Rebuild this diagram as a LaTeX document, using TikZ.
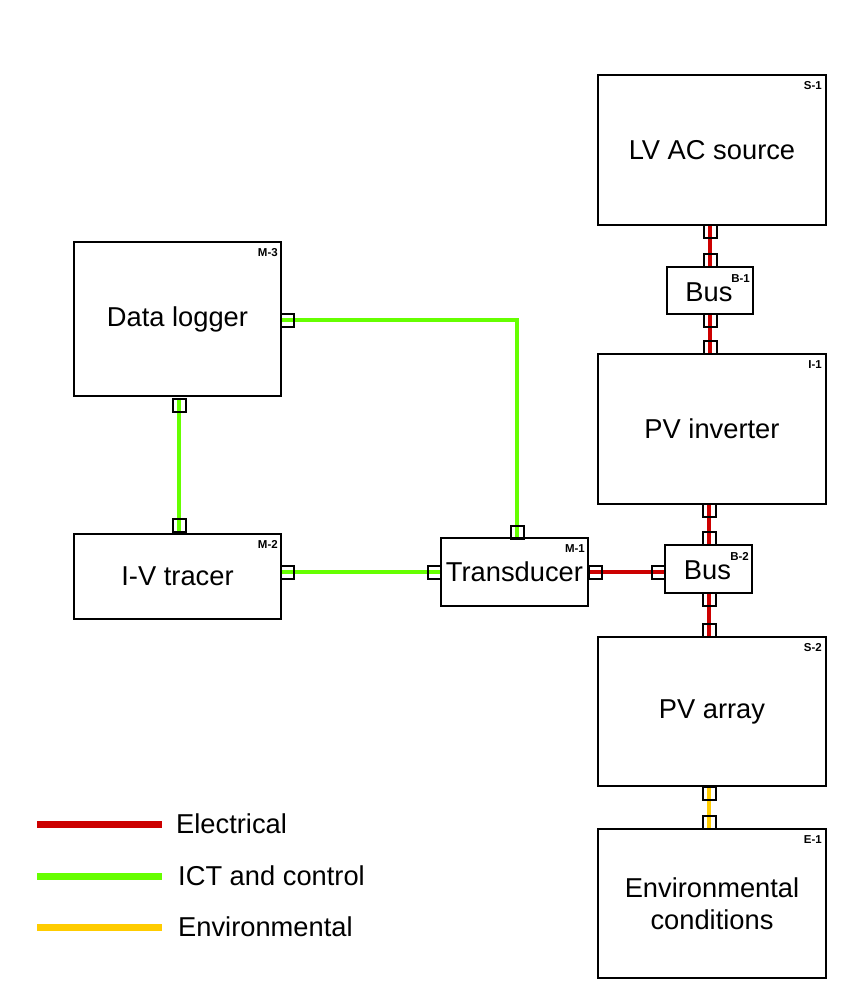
\documentclass[tikz,border=0pt]{standalone}
\usepackage{fontspec}
\setmainfont{Liberation Sans}
\usetikzlibrary{backgrounds}
\definecolor{elecc}{HTML}{CC0000}
\definecolor{ictc}{HTML}{66FF00}
\definecolor{envc}{HTML}{FFCC00}
\begin{document}
\begin{tikzpicture}[x=1pt,y=-1pt,
  box/.style={draw=black, line width=2pt, fill=white, inner sep=0pt, align=center,
    font=\fontsize{27.3}{31.5}\selectfont},
  bustext/.style={inner sep=0pt, font=\fontsize{27.3}{31.5}\selectfont},
  port/.style={draw=black, line width=2pt, minimum width=13pt, minimum height=13pt, inner sep=0pt},
  tag/.style={inner sep=0pt, anchor=north east, font=\bfseries\fontsize{11.5}{13}\selectfont},
  elec/.style={draw=elecc, line width=4pt},
  ict/.style={draw=ictc, line width=4pt},
  envl/.style={draw=envc, line width=4pt},
  legtext/.style={inner sep=0pt, anchor=base west, font=\fontsize{27.3}{31}\selectfont}]
\useasboundingbox (0,0) rectangle (855,1005);

% boxes
\node[box, minimum width=228pt, minimum height=150pt] (src) at (712,150) {LV AC source};
\node[box, minimum width=86pt, minimum height=47pt] (b1) at (710,290.5) {};
\node[bustext] (b1t) at ([shift={(-1,2)}]b1.center) {Bus};
\node[box, minimum width=228pt, minimum height=150pt] (inv) at (712,429) {PV inverter};
\node[box, minimum width=87pt, minimum height=48pt] (b2) at (708.5,569) {};
\node[bustext] (b2t) at ([shift={(-1,1)}]b2.center) {Bus};
\node[box, minimum width=228pt, minimum height=149pt] (arr) at (712,711.5) {PV array};
\node[box, minimum width=228pt, minimum height=149pt] (env) at (712,903.5) {Environmental\\conditions};
\node[box, minimum width=207pt, minimum height=154pt] (dl) at (177.5,319) {Data logger};
\node[box, minimum width=207pt, minimum height=85pt] (iv) at (177.5,576.5) {I-V tracer};
\node[box, minimum width=147pt, minimum height=68pt] (tr) at (514.5,572) {Transducer};

% tags
\node[tag] (tsrc) at ([shift={(-5,7)}]src.north east) {S-1};
\node[tag] (tb1) at ([shift={(-4,8)}]b1.north east) {B-1};
\node[tag] (tinv) at ([shift={(-5,7)}]inv.north east) {I-1};
\node[tag] (tb2) at ([shift={(-4,8)}]b2.north east) {B-2};
\node[tag] (tarr) at ([shift={(-5,7)}]arr.north east) {S-2};
\node[tag] (tenv) at ([shift={(-5,7)}]env.north east) {E-1};
\node[tag] (tdl) at ([shift={(-4,7)}]dl.north east) {M-3};
\node[tag] (tiv) at ([shift={(-4,7)}]iv.north east) {M-2};
\node[tag] (ttr) at ([shift={(-4,7)}]tr.north east) {M-1};

% ports
\node[port] (psrcb) at (710,231.5) {};
\node[port] (pb1t) at (710,260) {};
\node[port] (pb1b) at (710,320.5) {};
\node[port] (pinvt) at (710,347.5) {};
\node[port] (pinvb) at (709,510.5) {};
\node[port] (pb2t) at (709,538.5) {};
\node[port] (pb2b) at (709,599.5) {};
\node[port] (parrt) at (709,630.5) {};
\node[port] (parrb) at (709,793) {};
\node[port] (penvt) at (709,822.5) {};
\node[port] (pdlr) at (287.5,320) {};
\node[port] (pdlb) at (179,405) {};
\node[port] (pivt) at (179,525) {};
\node[port] (pivr) at (287.5,572) {};
\node[port] (ptrl) at (434,572) {};
\node[port] (ptrt) at (517,532.5) {};
\node[port] (ptrr) at (595,572) {};
\node[port] (pb2l) at (658.5,572) {};

% legend
\coordinate (la1) at (37,824);  \coordinate (lb1) at (162,824);
\coordinate (la2) at (37,876);  \coordinate (lb2) at (162,876);
\coordinate (la3) at (37,927);  \coordinate (lb3) at (162,927);
\node[legtext] (lt1) at (176,833) {Electrical};
\node[legtext] (lt2) at (178,885) {ICT and control};
\node[legtext] (lt3) at (178,936) {Environmental};

\begin{scope}[on background layer]
\fill[white] (0,0) rectangle (855,1005);
\draw[elec] (psrcb.north) -- (pb1t.south);
\draw[elec] (pb1b.north) -- (pinvt.south);
\draw[elec] (pinvb.north) -- (pb2t.south);
\draw[elec] (pb2b.north) -- (parrt.south);
\draw[elec] (ptrr.west) -- (pb2l.east);
\draw[envl] (parrb.north) -- (penvt.south);
\draw[ict] (pdlr.west) -| (ptrt.south);
\draw[ict] (pdlb.north) -- (pivt.south);
\draw[ict] (pivr.west) -- (ptrl.east);
\draw[elec, line width=7pt] (la1) -- (lb1);
\draw[ict, line width=7pt] (la2) -- (lb2);
\draw[envl, line width=7pt] (la3) -- (lb3);
\end{scope}
\end{tikzpicture}
\end{document}
